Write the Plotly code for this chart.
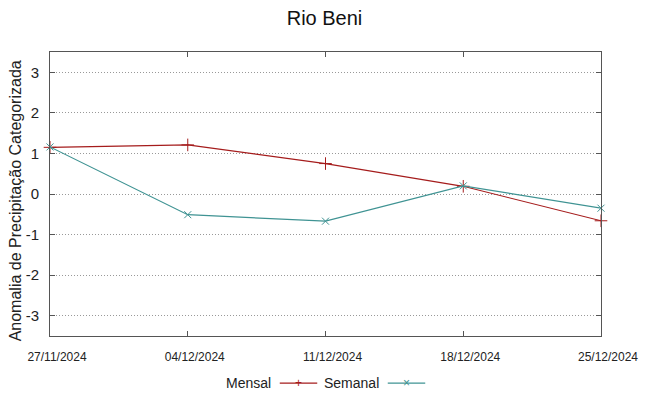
import plotly.graph_objects as go

dates = ["2024-11-27", "2024-12-04", "2024-12-11", "2024-12-18", "2024-12-25"]
tick_labels = ["27/11/2024", "04/12/2024", "11/12/2024", "18/12/2024", "25/12/2024"]
mensal = [1.15, 1.21, 0.75, 0.19, -0.66]
semanal = [1.16, -0.51, -0.67, 0.20, -0.35]
y_ticks = [-3, -2, -1, 0, 1, 2, 3]
y_tick_labels = ["-3", "-2", "-1", "0", "1", "2", "3"]

RED = "#a51c1c"
TEAL = "#3f9393"
FONT = "Liberation Sans, Arial, sans-serif"
FRAME = "#555555"

fig = go.Figure()
fig.add_trace(go.Scatter(x=dates, y=mensal, mode="lines+markers", name="Mensal",
                         line=dict(color=RED, width=1.2),
                         marker=dict(symbol="cross-thin-open", size=9, line=dict(color=RED, width=1)),
                         cliponaxis=False, showlegend=False))
fig.add_trace(go.Scatter(x=dates, y=semanal, mode="lines+markers", name="Semanal",
                         line=dict(color=TEAL, width=1.2),
                         marker=dict(symbol="x-thin-open", size=7, line=dict(color=TEAL, width=1)),
                         cliponaxis=False, showlegend=False))

# custom gnuplot-style legend (text before sample)
LEG_Y = -0.166
legend_items = [("Mensal", RED, "+", 0.405, 0.417, 0.485), ("Semanal", TEAL, "×", 0.601, 0.613, 0.681)]
for name, col, glyph, tx, l0, l1 in legend_items:
    fig.add_annotation(xref="paper", yref="paper", x=tx, y=LEG_Y, text=name, showarrow=False,
                       xanchor="right", yanchor="middle", font=dict(family=FONT, size=14, color="#222"))
    fig.add_shape(type="line", xref="paper", yref="paper", x0=l0, x1=l1,
                  y0=LEG_Y, y1=LEG_Y, line=dict(color=col, width=1.2))
    fig.add_annotation(xref="paper", yref="paper", x=(l0 + l1) / 2, y=LEG_Y, text=glyph, showarrow=False,
                       xanchor="center", yanchor="middle", font=dict(family=FONT, size=12, color=col))

# y-axis title placed like gnuplot's ylabel
fig.add_annotation(xref="paper", yref="paper", x=-0.062, y=0.477, text="Anomalia de Precipitação Categorizada",
                   textangle=-90, showarrow=False, xanchor="center", yanchor="middle",
                   font=dict(family=FONT, size=16, color="#222"))

fig.update_layout(
    width=649, height=396,
    margin=dict(l=50, r=48, t=52, b=60),
    paper_bgcolor="white", plot_bgcolor="white",
    font=dict(family=FONT, color="#222"),
    title=dict(text="Rio Beni", x=0.5, xanchor="center", yref="container", y=0.955, yanchor="middle",
               font=dict(family=FONT, size=20, color="#111")),
    xaxis=dict(type="date", range=[dates[0], dates[-1]], tickvals=dates, ticktext=tick_labels,
               automargin=False,
               showgrid=False, zeroline=False, showline=True, linecolor=FRAME, linewidth=1,
               mirror="ticks", ticks="inside", ticklen=5, tickcolor=FRAME,
               tickfont=dict(family="Liberation Sans Narrow, Liberation Sans, Arial", size=12, color="#222"),
               ticklabelstandoff=10, ticklabelshift=7),
    yaxis=dict(range=[-3.5, 3.5], tickvals=y_ticks, ticktext=y_tick_labels, automargin=False,
               showgrid=True, gridcolor="#999999",
               griddash="1px,2px", gridwidth=1, zeroline=False, showline=True, linecolor=FRAME,
               linewidth=1, mirror="ticks", ticks="inside", ticklen=5, tickcolor=FRAME,
               tickfont=dict(family=FONT, size=15, color="#222"), ticklabelstandoff=7),
)

fig.write_html("out.html", post_script="document.body.style.margin='0';",
               config={"displayModeBar": False})
